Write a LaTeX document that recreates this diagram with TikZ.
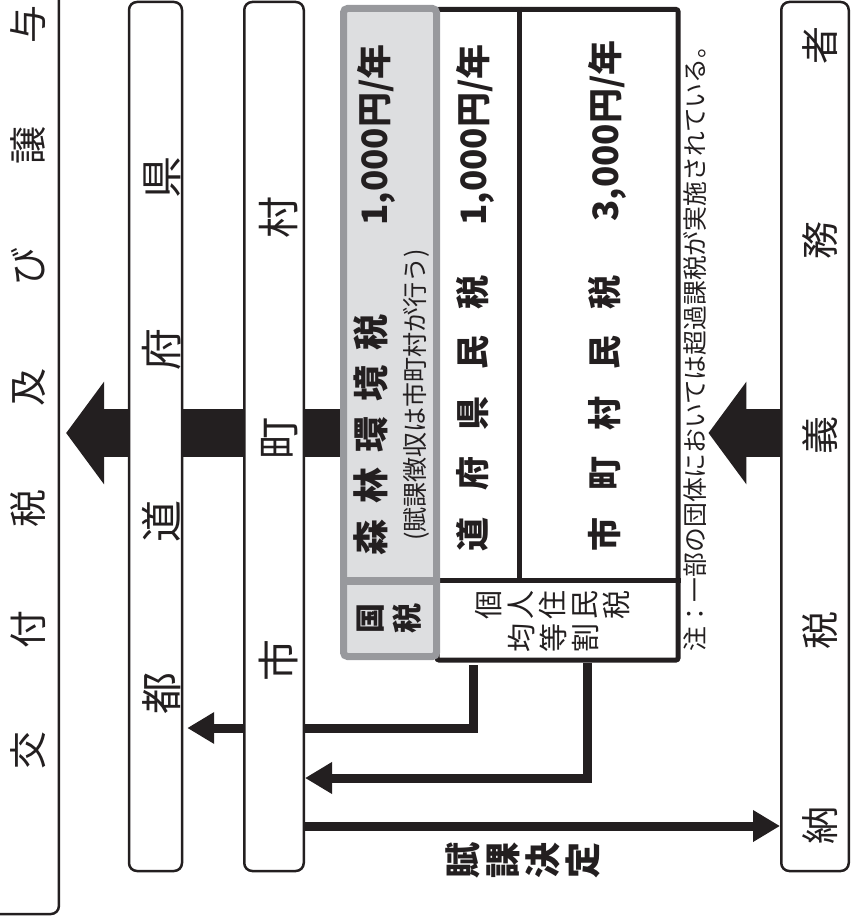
\documentclass[tikz,border=0pt]{standalone}
\usepackage{fontspec}
\setmainfont{Noto Sans CJK JP}
\usetikzlibrary{arrows.meta}
\newlength{\pxu}
\setlength{\pxu}{0.02cm}
\newcommand{\jfs}[2]{\fontsize{#1\pxu}{#2\pxu}\selectfont}
\newcommand{\spreadto}[2]{\makebox[#1\pxu][s]{#2}}
\definecolor{ink}{RGB}{35,31,32}
\definecolor{boxgray}{RGB}{152,153,157}
\definecolor{fillgray}{RGB}{221,222,224}
\pgfdeclarelayer{bg}
\pgfsetlayers{bg,main}

\begin{document}
\begin{tikzpicture}[x=0.02cm, y=-0.02cm,
    lane/.style={draw=ink, line width=2.5\pxu, rounded corners=8\pxu, fill=white, inner sep=0pt},
    rtext/.style={rotate=90, text=ink, inner sep=0pt},
    ttext/.style={rotate=90, text=ink, inner sep=0pt, align=center},
    flow/.style={draw=ink, line width=9\pxu, -{Triangle[width=0.6cm, length=0.54cm]}},
    fatflow/.style={draw=ink, line width=48\pxu, -{Triangle[width=2.02cm, length=0.76cm]}}]
    \useasboundingbox (0,0) rectangle (853,922);
    \clip (0,0) rectangle (853,922);

    % lanes
    \node[lane, minimum width=109\pxu, minimum height=964\pxu] (grant) at (4.4,432) {};
    \node[lane, minimum width=53\pxu, minimum height=869\pxu] (pref) at (155.5,436.5) {};
    \node[lane, minimum width=59.5\pxu, minimum height=869\pxu] (muni) at (274,436.5) {};
    \node[lane, minimum width=67.5\pxu, minimum height=869\pxu] (payer) at (815,436.5) {};

    % tax table
    \node[draw=ink, line width=5\pxu, rounded corners=2\pxu, inner sep=0pt,
          minimum width=241\pxu, minimum height=650.5\pxu] (tax) at (557.5,334.75) {};
    \draw[ink, line width=5\pxu] (tax.north -| 519,0) -- (519,580);
    \draw[ink, line width=5\pxu] (tax.west |- 0,580) -- (tax.east |- 0,580);
    \node[draw=boxgray, fill=fillgray, line width=7\pxu, rounded corners=4\pxu, inner sep=0pt,
          minimum width=93\pxu, minimum height=648\pxu] (forest) at (390,332.5) {};
    \draw[boxgray, line width=8\pxu] (forest.west |- 0,581) -- (forest.east |- 0,581);

    % flows
    \begin{pgfonlayer}{bg}
    \draw[fatflow, shorten >=0.12cm] (forest.west |- 0,433) -- (grant.east |- 0,433);
    \draw[fatflow, shorten >=0.56cm] (payer.west |- 0,433) -- (tax.east |- 0,433);
    \draw[flow, shorten <=0.05cm, shorten >=0.08cm] (tax.south -| 473,0) |- (pref.east |- 0,728);
    \draw[flow] (tax.south -| 587,0) |- (muni.east |- 0,778);
    \draw[flow] (muni.east |- 0,826) -- (payer.west |- 0,826);
    \end{pgfonlayer}

    % texts
    \node[rtext, font=\jfs{38}{40}] (grantlbl) at (28,387) {\spreadto{764}{交\hfill{}付\hfill{}税\hfill{}及\hfill{}び\hfill{}譲\hfill{}与}};
    \node[rtext, font=\jfs{42}{44}] (preflbl) at (162,435) {\spreadto{558}{都\hfill{}道\hfill{}府\hfill{}県}};
    \node[rtext, font=\jfs{42}{44}] (munilbl) at (278,438.5) {\spreadto{485}{市\hfill{}町\hfill{}村}};
    \node[rtext, font=\jfs{38}{40}] (payerlbl) at (820,435) {\spreadto{818}{納\hfill{}税\hfill{}義\hfill{}務\hfill{}者}};
    \node[rtext, font=\jfs{36}{38}\bfseries] (forestlbl) at (371,434.5) {\spreadto{241}{森\hfill{}林\hfill{}環\hfill{}境\hfill{}税}};
    \node[rtext, font=\jfs{35}{37}\bfseries] (forestamt) at (376,135) {1,000円/年};
    \node[rtext, font=\jfs{25}{27}] (forestnote) at (416,395) {(賦課徴収は市町村が行う)};
    \node[ttext, font=\jfs{30}{37}\bfseries] (natl) at (389,618) {国\\税};
    \node[rtext, font=\jfs{34}{36}\bfseries] (preftax) at (473,413) {\spreadto{276}{道\hfill{}府\hfill{}県\hfill{}民\hfill{}税}};
    \node[rtext, font=\jfs{35}{37}\bfseries] (prefamt) at (475,135) {1,000円/年};
    \node[rtext, font=\jfs{34}{36}\bfseries] (munitax) at (605,413) {\spreadto{276}{市\hfill{}町\hfill{}村\hfill{}民\hfill{}税}};
    \node[rtext, font=\jfs{35}{37}\bfseries] (muniamt) at (607,131) {3,000円/年};
    \node[ttext, font=\jfs{29}{32}] (percap) at (553,605) {個\\人\\住\\民\\税};
    \node[ttext, font=\jfs{29}{32}] (flat) at (553,638) {均\\等\\割};
    \node[ttext, font=\jfs{36}{40}\bfseries] (decide) at (523,860) {賦\\課\\決\\定};
    \node[rtext, font=\jfs{24.8}{26}, anchor=west] (note) at (695,652) {注：一部の団体においては超過課税が実施されている。};
\end{tikzpicture}
\end{document}
